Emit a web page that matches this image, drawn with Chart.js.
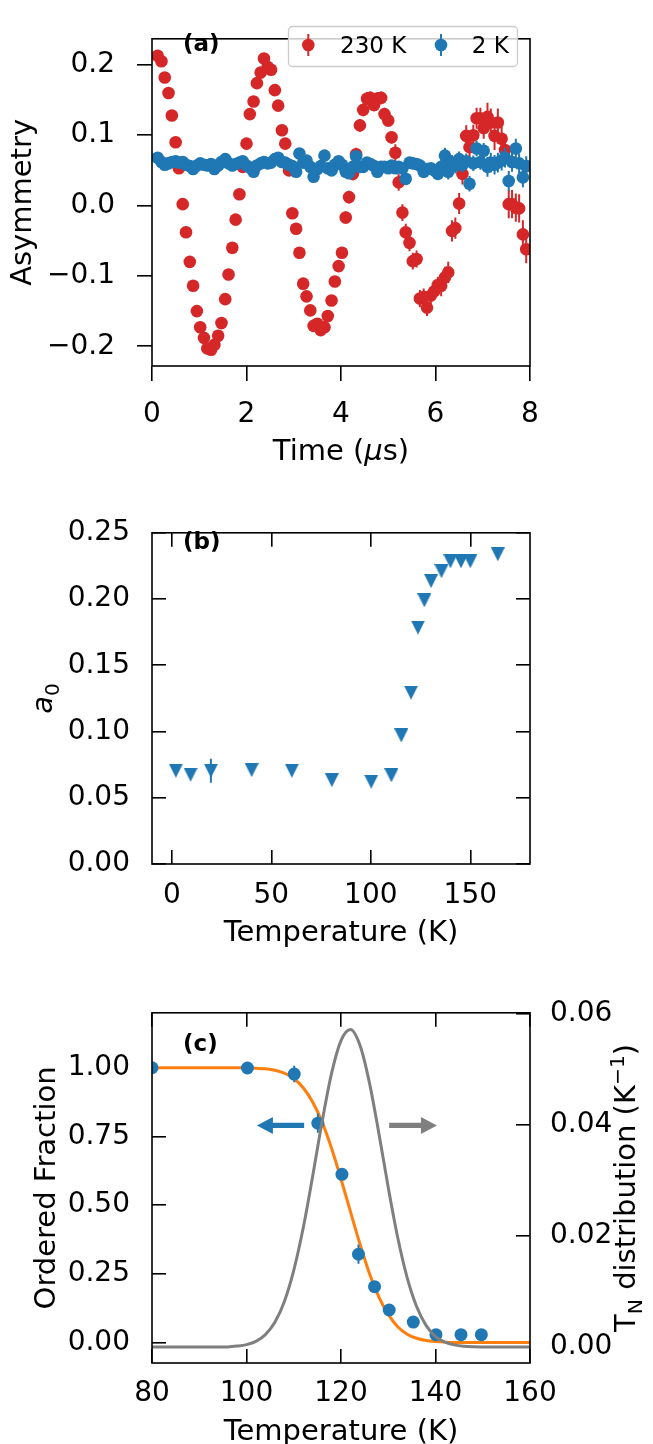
<!DOCTYPE html>
<html>
<head>
<meta charset="utf-8">
<script src="https://cdn.jsdelivr.net/npm/chart.js@4.4.1/dist/chart.umd.min.js"></script>
<style>
html,body{margin:0;padding:0;background:#fff;overflow:hidden}
#wrap{position:relative;width:653px;height:1444px}
canvas{position:absolute;left:0}
</style>
</head>
<body>
<div id="wrap">
<canvas id="chartA" width="653" height="480" style="top:0"></canvas>
<canvas id="chartB" width="653" height="480" style="top:480px"></canvas>
<canvas id="chartC" width="653" height="484" style="top:960px"></canvas>
</div>
<script>
const BLUE = '#1f77b4', RED = '#d62728', ORANGE = '#ff7f0e', GRAY = '#7f7f7f';
const FAMILY = "'DejaVu Sans', 'Liberation Sans', sans-serif";
const LABEL_SIZE = 29;

// (a) asymmetry vs time, 230 K and 2 K
const timeUs = [
  0.12,0.20,0.27,0.35,0.42,0.50,0.57,0.65,0.72,0.80,
  0.87,0.95,1.02,1.10,1.17,1.25,1.32,1.40,1.47,1.55,
  1.62,1.70,1.77,1.85,1.92,2.00,2.07,2.15,2.22,2.30,
  2.37,2.45,2.52,2.60,2.67,2.75,2.82,2.90,2.97,3.05,
  3.12,3.20,3.27,3.35,3.42,3.50,3.57,3.65,3.72,3.80,
  3.87,3.95,4.02,4.10,4.17,4.25,4.32,4.40,4.47,4.55,
  4.62,4.70,4.77,4.85,4.92,5.00,5.07,5.15,5.22,5.30,
  5.37,5.45,5.52,5.60,5.67,5.75,5.82,5.90,5.97,6.05,
  6.12,6.20,6.27,6.35,6.42,6.50,6.57,6.65,6.72,6.80,
  6.87,6.95,7.02,7.10,7.17,7.25,7.32,7.40,7.47,7.55,
  7.62,7.70,7.77,7.85,7.92
];
const asym230K = [
  0.213,0.205,0.182,0.160,0.128,0.090,0.053,0.002,-0.038,-0.080,
  -0.114,-0.150,-0.173,-0.188,-0.203,-0.205,-0.198,-0.185,-0.167,-0.133,
  -0.098,-0.060,-0.020,0.016,0.055,0.088,0.130,0.148,0.174,0.189,
  0.209,0.197,0.193,0.164,0.142,0.107,0.088,0.050,-0.011,-0.033,
  -0.067,-0.111,-0.129,-0.149,-0.171,-0.168,-0.177,-0.173,-0.157,-0.135,
  -0.108,-0.086,-0.067,-0.017,0.012,0.045,0.073,0.114,0.136,0.152,
  0.153,0.143,0.152,0.153,0.130,0.121,0.097,0.075,0.033,-0.010,
  -0.038,-0.053,-0.079,-0.076,-0.132,-0.130,-0.145,-0.128,-0.122,-0.113,
  -0.114,-0.102,-0.095,-0.036,-0.032,0.003,0.045,0.099,0.083,0.100,
  0.124,0.124,0.110,0.126,0.118,0.099,0.118,0.095,0.079,0.002,
  0.002,-0.003,-0.004,-0.041,-0.062
];
const err230K = [
  0.004,0.004,0.004,0.004,0.004,0.004,0.004,0.004,0.004,0.004,
  0.004,0.004,0.004,0.004,0.004,0.004,0.004,0.004,0.004,0.004,
  0.004,0.004,0.004,0.004,0.004,0.004,0.004,0.004,0.004,0.004,
  0.004,0.004,0.004,0.004,0.004,0.004,0.004,0.004,0.004,0.004,
  0.006,0.006,0.006,0.006,0.006,0.006,0.006,0.006,0.006,0.006,
  0.006,0.006,0.006,0.009,0.009,0.009,0.009,0.009,0.009,0.009,
  0.009,0.009,0.009,0.009,0.009,0.009,0.009,0.012,0.012,0.012,
  0.012,0.012,0.012,0.012,0.012,0.012,0.012,0.012,0.012,0.012,
  0.015,0.015,0.015,0.015,0.015,0.015,0.015,0.015,0.015,0.015,
  0.015,0.015,0.015,0.020,0.020,0.020,0.020,0.020,0.020,0.020,
  0.020,0.020,0.020,0.020,0.020
];
const asym2K = [
  0.068,0.062,0.058,0.060,0.062,0.063,0.061,0.062,0.058,0.056,
  0.052,0.057,0.060,0.058,0.057,0.059,0.052,0.057,0.062,0.066,
  0.060,0.057,0.059,0.061,0.063,0.057,0.054,0.048,0.057,0.060,
  0.062,0.060,0.061,0.066,0.068,0.062,0.061,0.058,0.056,0.048,
  0.074,0.061,0.064,0.055,0.041,0.052,0.056,0.071,0.053,0.050,
  0.058,0.063,0.058,0.048,0.046,0.055,0.070,0.055,0.055,0.061,
  0.059,0.056,0.048,0.055,0.055,0.053,0.057,0.053,0.055,0.053,
  0.038,0.061,0.060,0.059,0.057,0.048,0.052,0.053,0.050,0.045,
  0.055,0.071,0.048,0.061,0.057,0.066,0.058,0.063,0.031,0.060,
  0.081,0.062,0.078,0.055,0.061,0.058,0.061,0.064,0.068,0.035,
  0.062,0.081,0.060,0.040,0.056
];
const err2K = [
  0.003,0.003,0.003,0.003,0.003,0.003,0.003,0.003,0.003,0.003,
  0.003,0.003,0.003,0.003,0.003,0.003,0.003,0.003,0.003,0.003,
  0.003,0.003,0.003,0.003,0.003,0.003,0.003,0.003,0.003,0.003,
  0.003,0.003,0.003,0.003,0.003,0.003,0.003,0.003,0.003,0.003,
  0.005,0.005,0.005,0.005,0.005,0.005,0.005,0.005,0.005,0.005,
  0.005,0.005,0.005,0.005,0.005,0.005,0.005,0.005,0.005,0.005,
  0.005,0.005,0.005,0.005,0.005,0.005,0.005,0.008,0.008,0.008,
  0.008,0.008,0.008,0.008,0.008,0.008,0.008,0.008,0.008,0.008,
  0.011,0.011,0.011,0.011,0.011,0.011,0.011,0.011,0.011,0.011,
  0.011,0.011,0.011,0.014,0.014,0.014,0.014,0.014,0.014,0.014,
  0.014,0.014,0.014,0.014,0.014
];
const timeTicks = [0, 2, 4, 6, 8];
const asymTicks = [-0.2, -0.1, 0, 0.1, 0.2];

// (b) a0 vs temperature
const tempB = [2.0,9.4,19.6,40.1,60.3,80.4,100.2,110.3,115.3,120.2,123.7,126.9,130.3,135.5,140.0,145.3,150.0,163.8];
const a0 = [0.0704,0.0674,0.0704,0.0709,0.0704,0.0633,0.0621,0.0669,0.0970,0.1294,0.1785,0.1990,0.2136,0.2210,0.2285,0.2285,0.2285,0.2338];
const a0Err = [0,0,0.009,0,0,0,0,0,0,0,0,0,0,0,0,0,0,0];
const tempTicksB = [0, 50, 100, 150];
const a0Ticks = [0, 0.05, 0.10, 0.15, 0.20, 0.25];

// (c) ordered fraction and T_N distribution
const tempC = [80,100.2,110.1,115.1,120.2,123.7,127.1,130.2,135.3,140.1,145.4,149.7];
const orderedFrac = [1.000,0.999,0.977,0.798,0.612,0.321,0.203,0.118,0.074,0.028,0.028,0.028];
const orderedErr = [0.008,0.008,0.03,0.035,0.01,0.035,0.012,0.01,0.01,0.01,0.01,0.01];
const fitT = [80,84,88,92,96,100,102,104,106,108,110,112,114,116,118,120,122,124,126,128,130,132,134,136,138,140,142,144,148,152,156,160];
const fitFrac = [1.000,1.000,1.000,1.000,1.000,0.9995,0.998,0.996,0.991,0.980,0.961,0.927,0.875,0.802,0.707,0.595,0.476,0.359,0.252,0.166,0.102,0.057,0.030,0.015,0.007,0.003,0.001,0.000,0.000,0.000,0.000,0.000];
const distT = [80,84,88,92,96,98,100,102,104,106,108,110,112,114,116,118,120,122,124,126,128,130,132,134,136,138,140,142,144,146,148,152,156,160];
const distTN = [0,0,0,0,0.00003,0.00018,0.00045,0.00104,0.00225,0.00445,0.00817,0.0138,0.0214,0.0307,0.0405,0.0492,0.0551,0.0571,0.0543,0.0476,0.0385,0.0287,0.0197,0.0125,0.0073,0.0039,0.0019,0.0009,0.0004,0.00015,0.00005,0,0,0];
const tempTicksC = [80, 100, 120, 140, 160];
const fracTicks = [0, 0.25, 0.5, 0.75, 1.0];
const distTicks = [0, 0.02, 0.04, 0.06];
const arrowsC = [
  { from: 112.2, to: 102.2, y: 0.79, color: BLUE },
  { from: 130.2, to: 140.3, y: 0.79, color: GRAY }
];

Chart.defaults.font.family = FAMILY;
Chart.defaults.font.size = 28;
Chart.defaults.color = '#000';

function pts(xs, ys){ return xs.map((x, i) => ({ x: x, y: ys[i] })); }
function fixedTicks(list){ return s => { s.ticks = list.map(v => ({ value: v })); }; }
function fmt(d){ return v => (v < 0 ? '\u2212' : '') + Math.abs(v).toFixed(d); }

function axis(min, max, list, o){
  return {
    type: 'linear', position: o.position, min: min, max: max,
    afterBuildTicks: fixedTicks(list),
    afterFit: s => { if (o.w !== undefined) s.width = o.w; if (o.h !== undefined) s.height = o.h; },
    ticks: { display: o.labels !== false, callback: o.cb || (v => String(v)), padding: o.pad || 0, autoSkip: false, maxRotation: 0, color: '#000' },
    grid: { drawOnChartArea: false, drawTicks: o.tl !== 0, tickLength: o.tl, color: '#000', tickColor: '#000', lineWidth: 1.6 },
    border: { display: false },
    title: { display: false }
  };
}

function font(p, size){
  return (p.italic ? 'italic ' : '') + (p.bold ? 'bold ' : '') + size + 'px ' + FAMILY;
}
// text made of parts (sub/superscripts), centered on x, baseline at y
function richText(ctx, parts, x, y, angle, size){
  ctx.save();
  ctx.translate(x, y);
  ctx.rotate(angle);
  ctx.textBaseline = 'alphabetic';
  ctx.textAlign = 'left';
  ctx.fillStyle = '#000';
  let total = 0;
  parts.forEach(p => {
    p.sz = p.sub || p.sup ? size * 0.7 : size;
    ctx.font = font(p, p.sz);
    p.w = ctx.measureText(p.t).width;
    total += p.w;
  });
  let cx = -total / 2;
  parts.forEach(p => {
    ctx.font = font(p, p.sz);
    const dy = p.sub ? size * 0.24 : (p.sup ? -size * 0.38 : 0);
    ctx.fillText(p.t, cx, dy);
    cx += p.w;
  });
  ctx.restore();
}

const errorBars = {
  id: 'errorBars',
  beforeDatasetDraw(chart, args){
    const ds = chart.data.datasets[args.index];
    if (!ds.errors) return;
    const meta = args.meta;
    const ys = chart.scales[meta.yAxisID];
    const a = chart.chartArea;
    const ctx = chart.ctx;
    ctx.save();
    ctx.beginPath();
    ctx.rect(a.left, a.top, a.right - a.left, a.bottom - a.top);
    ctx.clip();
    ctx.strokeStyle = ds.borderColor;
    ctx.lineWidth = 2;
    ctx.beginPath();
    meta.data.forEach((pt, i) => {
      const e = ds.errors[i];
      if (!e) return;
      const v = ds.data[i].y;
      ctx.moveTo(pt.x, ys.getPixelForValue(v - e));
      ctx.lineTo(pt.x, ys.getPixelForValue(v + e));
    });
    ctx.stroke();
    ctx.restore();
  }
};

const frame = {
  id: 'frame',
  afterDatasetsDraw(chart){
    const a = chart.chartArea, ctx = chart.ctx;
    ctx.save();
    ctx.strokeStyle = '#000';
    ctx.lineWidth = 1.6;
    ctx.strokeRect(a.left, a.top, a.right - a.left, a.bottom - a.top);
    ctx.restore();
  }
};

function textPlugin(draw){
  return { id: 'texts', afterDraw(chart){ draw(chart, chart.ctx, chart.chartArea); } };
}

function panelLabel(ctx, text, y){
  ctx.save();
  ctx.font = 'bold 23px ' + FAMILY;
  ctx.fillStyle = '#000';
  ctx.fillText(text, 183, y);
  ctx.restore();
}

function baseOptions(pad){
  return {
    responsive: false, animation: false, devicePixelRatio: 1, events: [],
    layout: { padding: pad },
    plugins: { legend: { display: false }, tooltip: { enabled: false } }
  };
}

function triangleDown(size, color){
  const c = document.createElement('canvas');
  c.width = size; c.height = size;
  const g = c.getContext('2d');
  g.fillStyle = color;
  g.beginPath();
  g.moveTo(0, 0); g.lineTo(size, 0); g.lineTo(size / 2, size);
  g.closePath(); g.fill();
  return c;
}

function roundBox(ctx, x, y, w, h, r){
  ctx.beginPath();
  ctx.moveTo(x + r, y);
  ctx.arcTo(x + w, y, x + w, y + h, r);
  ctx.arcTo(x + w, y + h, x, y + h, r);
  ctx.arcTo(x, y + h, x, y, r);
  ctx.arcTo(x, y, x + w, y, r);
  ctx.closePath();
}

// ---------- (a)
const optA = baseOptions({ top: 14, right: 123, left: 0, bottom: 0 });
optA.scales = {
  x: axis(0, 8, timeTicks, { position: 'bottom', h: 114, tl: 15, pad: 17 }),
  y: axis(-0.228, 0.237, asymTicks, { position: 'left', w: 152, tl: 15, pad: 22, cb: fmt(1) })
};
new Chart(document.getElementById('chartA'), {
  type: 'scatter',
  data: { datasets: [
    { label: '2 K', data: pts(timeUs, asym2K), errors: err2K, backgroundColor: BLUE, borderColor: BLUE,
      pointRadius: 6.3, pointBorderWidth: 0, clip: 0 },
    { label: '230 K', data: pts(timeUs, asym230K), errors: err230K, backgroundColor: RED, borderColor: RED,
      pointRadius: 6.3, pointBorderWidth: 0, clip: 0 }
  ]},
  options: optA,
  plugins: [errorBars, frame, textPlugin((chart, ctx, a) => {
    const cx = (a.left + a.right) / 2, cy = (a.top + a.bottom) / 2;
    richText(ctx, [{ t: 'Time (' }, { t: '\u03bc', italic: true }, { t: 's)' }], cx, 460, 0, LABEL_SIZE);
    richText(ctx, [{ t: 'Asymmetry' }], 30.5, cy, -Math.PI / 2, LABEL_SIZE);
    panelLabel(ctx, '(a)', 50.5);
    // legend
    ctx.save();
    roundBox(ctx, 288.5, 26.5, 229, 40, 4);
    ctx.fillStyle = 'rgba(255,255,255,0.8)';
    ctx.fill();
    ctx.strokeStyle = '#cccccc';
    ctx.lineWidth = 1.3;
    ctx.stroke();
    const items = [{ x: 308.3, label: '230 K', tx: 340, c: RED }, { x: 441, label: '2 K', tx: 471.7, c: BLUE }];
    items.forEach(it => {
      ctx.strokeStyle = it.c; ctx.fillStyle = it.c; ctx.lineWidth = 2;
      ctx.beginPath(); ctx.moveTo(it.x, 34); ctx.lineTo(it.x, 56); ctx.stroke();
      ctx.beginPath(); ctx.arc(it.x, 45, 6.3, 0, Math.PI * 2); ctx.fill();
      ctx.fillStyle = '#000';
      ctx.font = '23px ' + FAMILY;
      ctx.fillText(it.label, it.tx, 53.3);
    });
    ctx.restore();
  })]
});

// ---------- (b)
const optB = baseOptions({ top: 33, right: 123, left: 0, bottom: 0 });
optB.scales = {
  x: axis(-10, 180, tempTicksB, { position: 'bottom', h: 96, tl: -14, pad: 29 }),
  x2: axis(-10, 180, tempTicksB, { position: 'top', h: 0, tl: -14, labels: false }),
  y: axis(0, 0.25, a0Ticks, { position: 'left', w: 152, tl: -14, pad: 36, cb: fmt(2) }),
  y2: axis(0, 0.25, a0Ticks, { position: 'right', w: 0, tl: -14, labels: false })
};
new Chart(document.getElementById('chartB'), {
  type: 'scatter',
  data: { datasets: [
    { label: 'a0', data: pts(tempB, a0), errors: a0Err, backgroundColor: BLUE, borderColor: BLUE,
      pointStyle: triangleDown(14, BLUE), pointRadius: 7, clip: 0 }
  ]},
  options: optB,
  plugins: [errorBars, frame, textPlugin((chart, ctx, a) => {
    const cx = (a.left + a.right) / 2, cy = (a.top + a.bottom) / 2;
    richText(ctx, [{ t: 'Temperature (K)' }], cx, 461, 0, LABEL_SIZE);
    richText(ctx, [{ t: 'a', italic: true }, { t: '0', sub: true }], 52.4, cy, -Math.PI / 2, LABEL_SIZE);
    panelLabel(ctx, '(b)', 69);
  })]
});

// ---------- (c)
const optC = baseOptions({ top: 51, right: 0, left: 0, bottom: 0 });
optC.scales = {
  x: axis(80, 160, tempTicksC, { position: 'bottom', h: 81, tl: -14, pad: 28 }),
  x2: axis(80, 160, tempTicksC, { position: 'top', h: 0, tl: -14, labels: false }),
  y: axis(-0.075, 1.2, fracTicks, { position: 'left', w: 152, tl: -14, pad: 36, cb: fmt(2) }),
  y2: axis(-0.00286, 0.0601, distTicks, { position: 'right', w: 123, tl: -14, pad: 34, cb: fmt(2) })
};
new Chart(document.getElementById('chartC'), {
  type: 'scatter',
  data: { datasets: [
    { label: 'T_N distribution', data: pts(distT, distTN), yAxisID: 'y2', showLine: true, borderColor: GRAY,
      borderWidth: 3, pointRadius: 0, cubicInterpolationMode: 'monotone', clip: 0 },
    { label: 'Ordered fraction', data: pts(tempC, orderedFrac), errors: orderedErr, yAxisID: 'y',
      backgroundColor: BLUE, borderColor: BLUE, pointRadius: 6.5, pointBorderWidth: 0, clip: 0 },
    { label: 'Fit', data: pts(fitT, fitFrac), yAxisID: 'y', showLine: true, borderColor: ORANGE,
      borderWidth: 3, pointRadius: 0, cubicInterpolationMode: 'monotone', clip: 0 }
  ]},
  options: optC,
  plugins: [errorBars, frame, textPlugin((chart, ctx, a) => {
    const cx = (a.left + a.right) / 2, cy = (a.top + a.bottom) / 2;
    const xs = chart.scales.x, ys = chart.scales.y;
    arrowsC.forEach(ar => {
      const x1 = xs.getPixelForValue(ar.from), x2 = xs.getPixelForValue(ar.to);
      const y = ys.getPixelForValue(ar.y);
      const dir = Math.sign(x2 - x1), hl = 16, hw = 8.5, sw = 2.6;
      const xb = x2 - dir * hl;
      ctx.save();
      ctx.fillStyle = ar.color;
      ctx.beginPath();
      ctx.moveTo(x1, y - sw); ctx.lineTo(xb, y - sw); ctx.lineTo(xb, y - hw);
      ctx.lineTo(x2, y); ctx.lineTo(xb, y + hw); ctx.lineTo(xb, y + sw); ctx.lineTo(x1, y + sw);
      ctx.closePath(); ctx.fill();
      ctx.restore();
    });
    richText(ctx, [{ t: 'Temperature (K)' }], cx, 480, 0, LABEL_SIZE);
    richText(ctx, [{ t: 'Ordered Fraction' }], 55, cy, -Math.PI / 2, LABEL_SIZE);
    richText(ctx, [{ t: 'T' }, { t: 'N', sub: true }, { t: ' distribution (K' }, { t: '\u22121', sup: true }, { t: ')' }],
      635, cy, -Math.PI / 2, LABEL_SIZE);
    panelLabel(ctx, '(c)', 90.5);
  })]
});
</script>
</body>
</html>
